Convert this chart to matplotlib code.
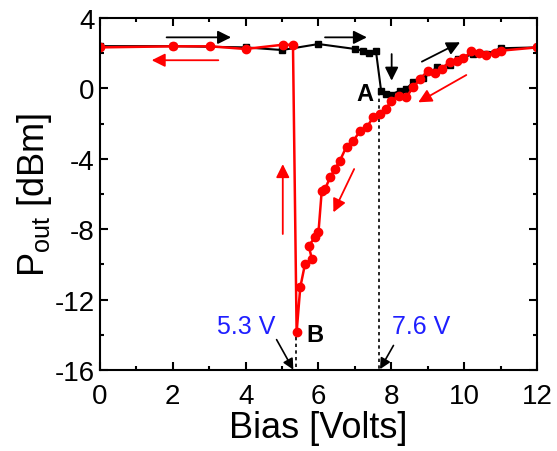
import numpy as np
import matplotlib.pyplot as plt

plt.rcParams['font.family'] = ['Liberation Sans', 'DejaVu Sans']
plt.rcParams['axes.unicode_minus'] = False

# forward sweep (0 -> 12 V)
bias_up = [0, 2.0, 4.0, 5.0, 6.0, 7.0, 7.23, 7.4, 7.58, 7.72, 7.85, 7.98, 8.24, 8.41,
           8.6, 8.88, 9.25, 9.6, 9.84, 10.25, 10.6, 11.0, 12.0]
pout_up = [2.4, 2.4, 2.33, 2.18, 2.52, 2.24, 2.14, 1.99, 2.1, -0.13, -0.3, -0.35, -0.13, -0.03,
           0.35, 0.57, 1.2, 1.33, 1.67, 1.95, 1.95, 2.28, 2.33]

# backward sweep (12 -> 0 V)
bias_down = [12.0, 11.0, 10.85, 10.6, 10.42, 10.2, 9.98, 9.8, 9.6, 9.38, 9.2, 9.0, 8.79, 8.6,
             8.41, 8.22, 8.0, 7.85, 7.7, 7.5, 7.33, 7.15, 6.96, 6.77, 6.59, 6.45, 6.32, 6.18,
             6.09, 6.0, 5.91, 5.73, 5.82, 5.63, 5.5, 5.4, 5.3, 5.02, 4.0, 3.02, 2.01, 0]
pout_down = [2.33, 2.14, 1.99, 1.92, 1.99, 2.1, 1.71, 1.57, 1.52, 1.1, 0.87, 1.0, 0.53, 0.06,
             -0.5, -0.41, -0.7, -1.17, -1.45, -1.64, -2.2, -2.4, -2.97, -3.3, -4.1, -4.58, -5.05, -5.72,
             -5.81, -8.18, -8.46, -8.93, -9.69, -9.98, -11.3, -13.86, 2.48, 2.48, 2.24, 2.39, 2.39, 2.33]

v_b = 5.38
v_a = 7.65

fig = plt.figure(figsize=(5.57, 4.52), dpi=100)
ax = fig.add_axes([0.1795, 0.179, 0.7845, 0.779])

ax.plot([v_b, v_b], [-14.1, -16], 'k--', lw=1.2, dashes=(2, 2))
ax.plot([v_a, v_a], [-0.2, -16], 'k--', lw=1.2, dashes=(2, 2))

ax.plot(bias_up, pout_up, '-s', color='black', lw=1.5, ms=5)
ax.plot(bias_down, pout_down, '-o', color='red', lw=1.8, ms=6)

# sweep direction arrows
def arrow(x0, y0, x1, y1, c):
    ax.annotate('', xy=(x1, y1), xytext=(x0, y0),
                arrowprops=dict(arrowstyle='-|>', color=c, lw=1.3, mutation_scale=20,
                                shrinkA=0, shrinkB=0))

arrow(1.83, 2.9, 3.6, 2.9, 'black')
arrow(6.18, 2.9, 7.33, 2.9, 'black')
arrow(8.01, 1.95, 8.01, 0.44, 'black')
arrow(8.84, 1.52, 9.89, 2.62, 'black')
arrow(3.25, 1.6, 1.42, 1.6, 'red')
arrow(10.06, 0.76, 8.74, -0.79, 'red')
arrow(6.98, -4.58, 6.41, -7.04, 'red')
arrow(5.02, -8.27, 5.02, -4.3, 'red')

# voltage markers
ax.annotate('', xy=(5.31, -15.98), xytext=(4.85, -14.27),
            arrowprops=dict(arrowstyle='-|>', color='black', lw=1.2, mutation_scale=16,
                            shrinkA=0, shrinkB=0))
ax.annotate('', xy=(7.69, -15.95), xytext=(8.06, -14.6),
            arrowprops=dict(arrowstyle='-|>', color='black', lw=1.2, mutation_scale=16,
                            shrinkA=0, shrinkB=0))
ax.text(4.02, -13.5, '5.3 V', color='#1f1fff', fontsize=18, ha='center', va='center')
ax.text(8.82, -13.5, '7.6 V', color='#1f1fff', fontsize=18, ha='center', va='center')
ax.text(5.9, -14.0, 'B', fontsize=17, fontweight='bold', ha='center', va='center')
ax.text(7.28, -0.3, 'A', fontsize=17, fontweight='bold', ha='center', va='center')

ax.set_xlim(0, 12)
ax.set_ylim(-16, 4)
ax.set_xticks(np.arange(0, 13, 2))
ax.set_xticks(np.arange(0, 13, 1), minor=True)
ax.set_yticks(np.arange(-16, 5, 4))
ax.set_yticks(np.arange(-16, 5, 2), minor=True)
ax.tick_params(which='both', direction='in', top=True, right=True, width=1.5)
ax.tick_params(which='major', length=6, labelsize=20, pad=4)
ax.tick_params(axis='x', which='major', pad=9)
ax.tick_params(which='minor', length=3)
for s in ax.spines.values():
    s.set_linewidth(1.5)

ax.set_xlabel('Bias [Volts]', fontsize=26, labelpad=1)
ax.set_ylabel('P$_\\mathregular{out}$ [dBm]', fontsize=26, labelpad=0)

plt.savefig('out.png', dpi=100)
